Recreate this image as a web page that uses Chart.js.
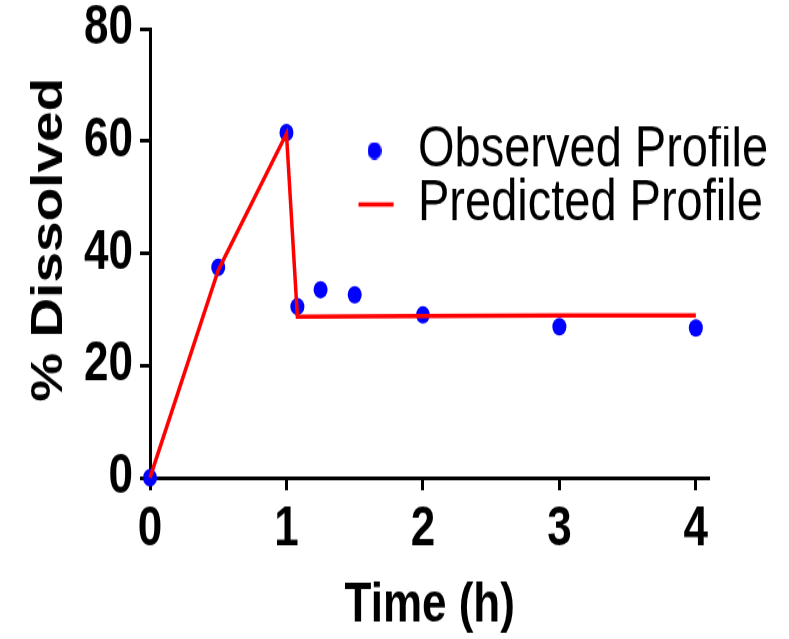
<!DOCTYPE html>
<html>
<head>
<meta charset="utf-8">
<script src="https://cdn.jsdelivr.net/npm/chart.js@4/dist/chart.umd.min.js"></script>
<style>
  html, body { margin: 0; padding: 0; background: #ffffff; }
  #c { display: block; width: 789px; height: 639px; }
</style>
</head>
<body>
<canvas id="c" width="789" height="511" style="width:789px;height:639px;"></canvas>
<script>
// ---- data ----
const obsTime      = [0, 0.5, 1, 1.08, 1.25, 1.5, 2, 3, 4];
const obsDissolved = [0, 37.5, 61.5, 30.5, 33.5, 32.6, 29.0, 26.9, 26.7];
const predTime      = [0, 0.5, 1, 1.08, 2, 3, 4];
const predDissolved = [0, 37.0, 61.3, 28.7, 28.8, 28.9, 28.9];
const seriesNames = ['Observed Profile', 'Predicted Profile'];
const xTicks = [0, 1, 2, 3, 4];
const yTicks = [0, 20, 40, 60, 80];
const xTitle = 'Time (h)';
const yTitle = '% Dissolved';

const BLUE = '#0000ff';
const RED = '#ff0000';
const FONT = "'Liberation Sans', Arial, sans-serif";

// small dot image used for the legend marker
const dotImg = document.createElement('canvas');
dotImg.width = 14; dotImg.height = 14;
(function () {
  const g = dotImg.getContext('2d');
  g.fillStyle = BLUE;
  g.beginPath(); g.arc(7, 7, 7, 0, Math.PI * 2); g.fill();
})();

const placement = {
  id: 'placement',
  afterLayout(chart) {
    const lg = chart.legend;
    if (lg) {
      const w = 430, h = 130;
      lg.left = 358.5; lg.top = 101;
      lg.right = lg.left + w; lg.bottom = lg.top + h;
      lg.width = w; lg.height = h;
    }
    const ys = chart.scales.y;
    if (ys && !ys._titleShifted) {
      const orig = ys.drawTitle.bind(ys);
      ys.drawTitle = function () {
        const ctx = this.ctx;
        ctx.save();
        ctx.translate(0, -10.8);
        orig();
        ctx.restore();
      };
      ys._titleShifted = true;
    }
  }
};

new Chart(document.getElementById('c'), {
  type: 'scatter',
  data: {
    datasets: [
      {
        label: seriesNames[0],
        data: obsTime.map((t, i) => ({ x: t, y: obsDissolved[i] })),
        showLine: false,
        pointRadius: 7,
        pointHoverRadius: 7,
        pointBorderWidth: 0,
        backgroundColor: BLUE,
        borderColor: BLUE,
        order: 1,
        clip: false
      },
      {
        label: seriesNames[1],
        data: predTime.map((t, i) => ({ x: t, y: predDissolved[i] })),
        showLine: true,
        pointRadius: 0,
        borderColor: RED,
        backgroundColor: RED,
        borderWidth: 3.5,
        tension: 0,
        fill: false,
        order: 0,
        clip: false
      }
    ]
  },
  options: {
    responsive: false,
    devicePixelRatio: 1,
    animation: false,
    events: [],
    layout: { padding: { left: 0, top: 23, right: 79.5, bottom: 0 } },
    plugins: {
      tooltip: { enabled: false },
      legend: {
        position: 'chartArea',
        align: 'start',
        labels: {
          usePointStyle: true,
          boxWidth: 40,
          boxHeight: 27,
          padding: -4,
          color: '#000000',
          font: { family: FONT, size: 47, weight: 'normal', lineHeight: 1 },
          generateLabels(chart) {
            const items = Chart.defaults.plugins.legend.labels.generateLabels(chart);
            items.sort((a, b) => a.datasetIndex - b.datasetIndex);
            items.forEach(it => {
              if (it.datasetIndex === 0) {
                it.pointStyle = dotImg;
                it.fillStyle = BLUE; it.strokeStyle = BLUE; it.lineWidth = 0;
              } else {
                it.pointStyle = 'line';
                it.strokeStyle = RED; it.fillStyle = RED; it.lineWidth = 3.5;
              }
            });
            return items;
          }
        }
      }
    },
    scales: {
      x: {
        type: 'linear',
        min: 0,
        max: 4.1,
        afterBuildTicks(scale) { scale.ticks = xTicks.map(v => ({ value: v })); },
        afterFit(scale) { scale.height = 129; },
        border: { display: true, color: '#000', width: 3 },
        grid: { display: true, drawOnChartArea: false, drawTicks: true, tickLength: 10, tickWidth: 3, tickColor: '#000' },
        ticks: {
          color: '#000',
          padding: 10,
          maxRotation: 0,
          font: { family: FONT, size: 44, weight: 'bold', lineHeight: 1 },
          callback: v => String(v)
        },
        title: {
          display: true,
          text: xTitle,
          color: '#000',
          padding: { top: 0, bottom: 4 },
          font: { family: FONT, size: 44, weight: 'bold', lineHeight: 1 }
        }
      },
      y: {
        type: 'linear',
        min: 0,
        max: 80,
        afterBuildTicks(scale) { scale.ticks = yTicks.map(v => ({ value: v })); },
        afterFit(scale) { scale.width = 150; scale.paddingTop = 0; scale.paddingBottom = 0; },
        border: { display: true, color: '#000', width: 3 },
        grid: { display: true, drawOnChartArea: false, drawTicks: true, tickLength: 10, tickWidth: 3, tickColor: '#000' },
        ticks: {
          color: '#000',
          padding: 7,
          font: { family: FONT, size: 44, weight: 'bold', lineHeight: 1 },
          callback: v => String(v)
        },
        title: {
          display: true,
          text: yTitle,
          color: '#000',
          padding: { top: 28, bottom: 0 },
          font: { family: FONT, size: 44, weight: 'bold', lineHeight: 1 }
        }
      }
    }
  },
  plugins: [placement]
});
</script>
</body>
</html>
